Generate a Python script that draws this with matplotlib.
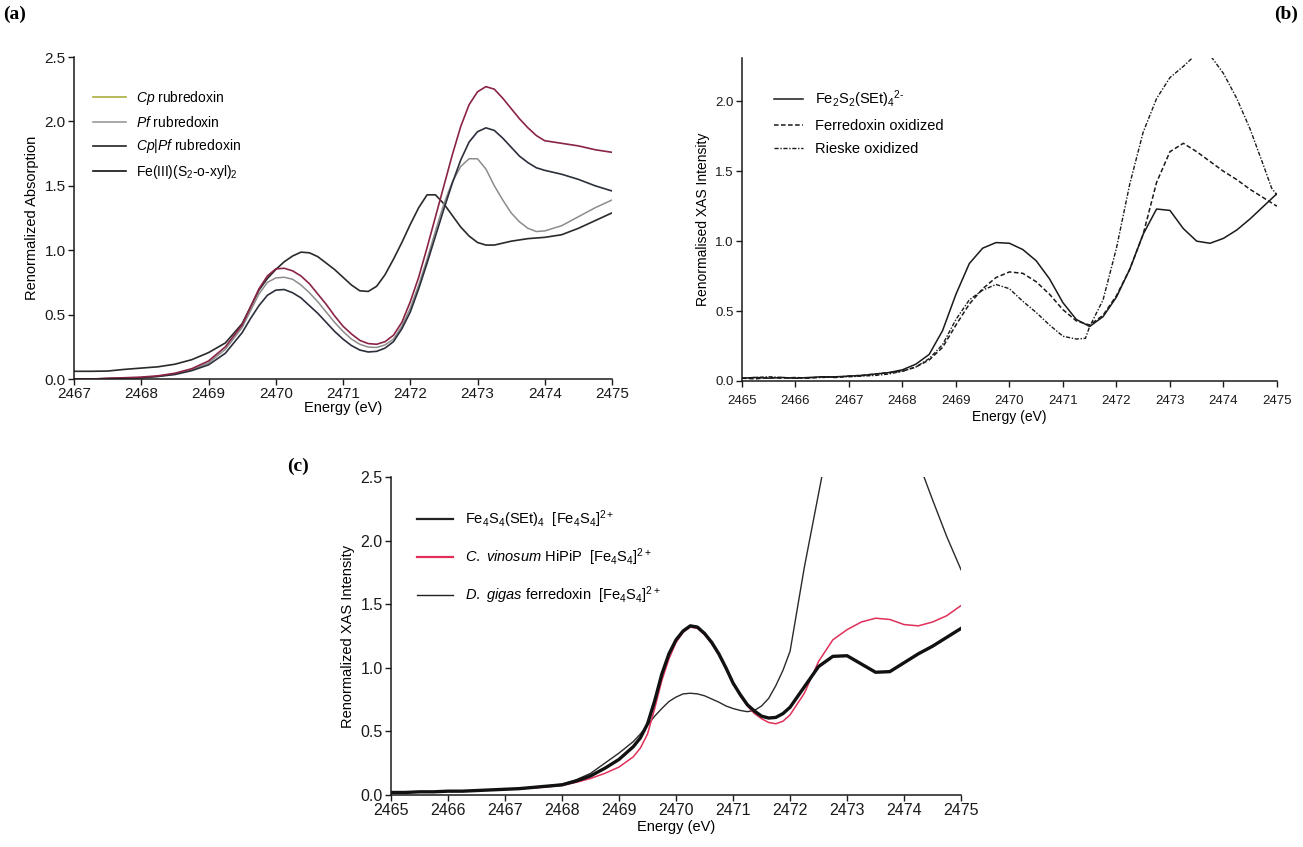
import matplotlib
matplotlib.use('Agg')
import matplotlib.pyplot as plt
from matplotlib.lines import Line2D

plt.rcParams['font.family'] = ['Liberation Sans', 'DejaVu Sans']
plt.rcParams['mathtext.fontset'] = 'custom'
plt.rcParams['mathtext.rm'] = 'Liberation Sans'
plt.rcParams['mathtext.it'] = 'Liberation Sans:italic'
plt.rcParams['mathtext.bf'] = 'Liberation Sans:bold'

TICK_FONT = ['Liberation Sans Narrow', 'Liberation Sans', 'DejaVu Sans']

# ---------------- panel (a): rubredoxins ----------------
energy_a = [2467.0, 2467.25, 2467.5, 2467.75, 2468.0, 2468.25, 2468.5, 2468.75,
            2469.0, 2469.25,
            2469.5, 2469.625, 2469.75, 2469.875, 2470.0, 2470.125, 2470.25, 2470.375,
            2470.5, 2470.625, 2470.75, 2470.875, 2471.0, 2471.125, 2471.25, 2471.375,
            2471.5, 2471.625, 2471.75, 2471.875, 2472.0, 2472.125, 2472.25, 2472.375,
            2472.5, 2472.625, 2472.75, 2472.875, 2473.0, 2473.125, 2473.25, 2473.375,
            2473.5, 2473.625, 2473.75, 2473.875, 2474.0,
            2474.25, 2474.5, 2474.75, 2475.0]
cp_rub = [0.0, 0.0, 0.005, 0.01, 0.015, 0.025, 0.045, 0.08, 0.14, 0.25,
          0.42, 0.56, 0.70, 0.80, 0.855, 0.86, 0.84, 0.80,
          0.74, 0.66, 0.58, 0.49, 0.41, 0.35, 0.30, 0.275,
          0.27, 0.29, 0.34, 0.44, 0.60, 0.79, 1.02, 1.26,
          1.50, 1.74, 1.96, 2.13, 2.23, 2.27, 2.25, 2.18,
          2.10, 2.02, 1.95, 1.89, 1.85,
          1.83, 1.81, 1.78, 1.76]
pf_rub = [0.0, 0.0, 0.004, 0.008, 0.01, 0.02, 0.04, 0.07, 0.125, 0.23,
          0.40, 0.53, 0.66, 0.75, 0.785, 0.79, 0.775, 0.73,
          0.67, 0.60, 0.52, 0.44, 0.37, 0.31, 0.27, 0.248,
          0.245, 0.265, 0.31, 0.41, 0.55, 0.73, 0.93, 1.15,
          1.36, 1.53, 1.65, 1.71, 1.71, 1.63, 1.50, 1.39,
          1.29, 1.22, 1.17, 1.145, 1.15,
          1.19, 1.26, 1.33, 1.39]
cppf_rub = [0.0, 0.0, 0.004, 0.007, 0.01, 0.02, 0.035, 0.065, 0.11, 0.20,
            0.36, 0.47, 0.57, 0.65, 0.69, 0.695, 0.67, 0.63,
            0.57, 0.51, 0.44, 0.37, 0.31, 0.26, 0.225, 0.21,
            0.215, 0.24, 0.29, 0.39, 0.52, 0.70, 0.90, 1.11,
            1.32, 1.52, 1.70, 1.84, 1.92, 1.95, 1.93, 1.87,
            1.80, 1.73, 1.68, 1.64, 1.62,
            1.59, 1.55, 1.50, 1.46]
fe_xyl = [0.06, 0.06, 0.062, 0.075, 0.085, 0.095, 0.115, 0.15, 0.205, 0.28,
          0.43, 0.56, 0.69, 0.78, 0.85, 0.91, 0.955, 0.985,
          0.98, 0.95, 0.90, 0.85, 0.79, 0.73, 0.685, 0.68,
          0.72, 0.81, 0.93, 1.06, 1.20, 1.33, 1.43, 1.43,
          1.36, 1.27, 1.18, 1.11, 1.06, 1.04, 1.04, 1.055,
          1.07, 1.08, 1.09, 1.095, 1.10,
          1.12, 1.17, 1.23, 1.29]
labels_a = [r'$\it{Cp}$ rubredoxin', r'$\it{Pf}$ rubredoxin',
            r'$\it{Cp|Pf}$ rubredoxin', r'Fe(III)(S$_2$-o-xyl)$_2$']

# ---------------- panel (b): Fe2S2 ----------------
energy_b = [2465.0, 2465.25, 2465.5, 2465.75, 2466.0, 2466.25, 2466.5, 2466.75,
            2467.0, 2467.25, 2467.5, 2467.75, 2468.0, 2468.25, 2468.5, 2468.75,
            2469.0, 2469.25, 2469.5, 2469.75, 2470.0, 2470.25, 2470.5, 2470.75,
            2471.0, 2471.25, 2471.5, 2471.75, 2472.0, 2472.25, 2472.5, 2472.75,
            2473.0, 2473.25, 2473.5, 2473.75, 2474.0, 2474.25, 2474.5, 2474.75, 2475.0]
fe2s2_model = [0.02, 0.025, 0.02, 0.025, 0.02, 0.025, 0.03, 0.03,
               0.035, 0.04, 0.05, 0.06, 0.08, 0.12, 0.19, 0.36,
               0.62, 0.84, 0.95, 0.99, 0.985, 0.94, 0.86, 0.73,
               0.56, 0.44, 0.39, 0.46, 0.60, 0.80, 1.05, 1.23,
               1.22, 1.09, 1.00, 0.985, 1.02, 1.08, 1.16, 1.25, 1.34]
ferredoxin_ox = [0.02, 0.015, 0.025, 0.02, 0.025, 0.02, 0.03, 0.025,
                 0.035, 0.04, 0.05, 0.06, 0.07, 0.10, 0.15, 0.24,
                 0.40, 0.55, 0.66, 0.74, 0.78, 0.77, 0.71, 0.62,
                 0.51, 0.43, 0.40, 0.47, 0.61, 0.80, 1.05, 1.42,
                 1.64, 1.70, 1.64, 1.57, 1.50, 1.44, 1.37, 1.31, 1.25]
energy_rieske = [2465.0, 2465.5, 2466.0, 2466.5, 2467.0, 2467.5, 2467.75, 2468.0,
                 2468.25, 2468.5, 2468.75, 2469.0, 2469.25, 2469.5, 2469.75, 2470.0,
                 2470.25, 2470.5, 2470.75, 2471.0, 2471.25, 2471.42, 2471.5, 2471.75,
                 2472.0, 2472.25, 2472.5, 2472.75, 2473.0, 2473.25, 2473.5, 2473.75,
                 2474.0, 2474.25, 2474.5, 2474.75, 2474.9, 2475.0]
rieske_ox = [0.02, 0.03, 0.02, 0.025, 0.03, 0.04, 0.05, 0.07,
             0.10, 0.16, 0.26, 0.44, 0.58, 0.65, 0.69, 0.66,
             0.57, 0.49, 0.40, 0.32, 0.30, 0.305, 0.39, 0.58,
             0.95, 1.41, 1.78, 2.02, 2.17, 2.25, 2.34, 2.33,
             2.20, 2.02, 1.80, 1.54, 1.38, 1.33]
labels_b = [r'Fe$_2$S$_2$(SEt)$_4$$^{2\text{-}}$', 'Ferredoxin oxidized', 'Rieske oxidized']

# ---------------- panel (c): Fe4S4 ----------------
energy_c = [2465.0, 2465.25, 2465.5, 2465.75, 2466.0, 2466.25, 2466.5, 2466.75,
            2467.0, 2467.25, 2467.5, 2467.75, 2468.0, 2468.25, 2468.5, 2468.75,
            2469.0,
            2469.25, 2469.375, 2469.5, 2469.625, 2469.75, 2469.875, 2470.0, 2470.125,
            2470.25, 2470.375, 2470.5, 2470.625, 2470.75, 2470.875, 2471.0, 2471.125,
            2471.25, 2471.375, 2471.5, 2471.625, 2471.75, 2471.875, 2472.0,
            2472.25, 2472.5, 2472.75, 2473.0, 2473.25, 2473.5, 2473.75,
            2474.0, 2474.25, 2474.5, 2474.75, 2475.0]
fe4s4_model = [0.02, 0.02, 0.025, 0.025, 0.03, 0.03, 0.035, 0.04,
               0.045, 0.05, 0.06, 0.07, 0.08, 0.11, 0.15, 0.21,
               0.28,
               0.38, 0.45, 0.56, 0.74, 0.95, 1.11, 1.22, 1.29,
               1.33, 1.32, 1.27, 1.20, 1.11, 1.00, 0.88, 0.79,
               0.71, 0.66, 0.62, 0.605, 0.61, 0.64, 0.69,
               0.85, 1.01, 1.09, 1.095, 1.03, 0.965, 0.97,
               1.04, 1.11, 1.17, 1.24, 1.31]
hipip = [0.02, 0.02, 0.025, 0.025, 0.03, 0.03, 0.035, 0.04,
         0.045, 0.05, 0.055, 0.065, 0.075, 0.10, 0.13, 0.17,
         0.22,
         0.30, 0.37, 0.48, 0.68, 0.90, 1.07, 1.20, 1.28,
         1.32, 1.31, 1.26, 1.19, 1.10, 0.99, 0.88, 0.78,
         0.70, 0.64, 0.60, 0.57, 0.56, 0.58, 0.63,
         0.80, 1.05, 1.22, 1.30, 1.36, 1.39, 1.38,
         1.34, 1.33, 1.36, 1.41, 1.49]
dgigas_fd = [0.02, 0.02, 0.025, 0.025, 0.03, 0.03, 0.035, 0.04,
             0.045, 0.05, 0.06, 0.07, 0.085, 0.12, 0.17, 0.25,
             0.33,
             0.42, 0.48, 0.55, 0.62, 0.68, 0.735, 0.77, 0.795,
             0.80, 0.795, 0.78, 0.755, 0.73, 0.70, 0.68, 0.665,
             0.655, 0.665, 0.70, 0.76, 0.86, 0.98, 1.13,
             1.79, 2.37, 2.95, 3.20, 3.30, 3.25, 3.05,
             2.85, 2.62, 2.32, 2.03, 1.77]
labels_c = [r'Fe$_4$S$_4$(SEt)$_4$  [Fe$_4$S$_4$]$^{2+}$',
            r'$\it{C.\ vinosum}$ HiPiP  [Fe$_4$S$_4$]$^{2+}$',
            r'$\it{D.\ gigas}$ ferredoxin  [Fe$_4$S$_4$]$^{2+}$']


def style_axes(ax, tick_size):
    #only left and bottom spines, ticks pointing out
    for side in ['top', 'right']:
        ax.spines[side].set_visible(False)
    for side in ['left', 'bottom']:
        ax.spines[side].set_linewidth(1.1)
        ax.spines[side].set_color('#1a1a1a')
    ax.tick_params(direction='out', length=4, width=1.0, colors='#1a1a1a',
                   labelsize=tick_size, pad=2)
    for lab in ax.get_xticklabels() + ax.get_yticklabels():
        lab.set_family(TICK_FONT)


fig = plt.figure(figsize=(13.03, 8.47), dpi=100)

# panel (a)
ax_a = fig.add_axes([0.0568, 0.5525, 0.4129, 0.3802])
ax_a.plot(energy_a, fe_xyl, color='#2a2a2a', lw=1.2)
ax_a.plot(energy_a, pf_rub, color='#8c8c8c', lw=1.1)
ax_a.plot(energy_a, cppf_rub, color='#2c2f3c', lw=1.2)
ax_a.plot(energy_a, cp_rub, color='#8a2444', lw=1.2)
ax_a.set_xlim(2467, 2475)
ax_a.set_ylim(0, 2.5)
ax_a.set_xticks(range(2467, 2476))
ax_a.set_yticks([0, 0.5, 1.0, 1.5, 2.0, 2.5])
ax_a.set_yticklabels(['0.0', '0.5', '1.0', '1.5', '2.0', '2.5'])
style_axes(ax_a, 11)
ax_a.set_xlabel('Energy (eV)', fontsize=10.5, labelpad=0)
ax_a.set_ylabel('Renormalized Absorption', fontsize=10.5, labelpad=4)
handles_a = [Line2D([], [], color=c, lw=1.2) for c in ['#a9ae3c', '#9a9a9a', '#222222', '#111111']]
ax_a.legend(handles_a, labels_a, loc='upper left', bbox_to_anchor=(0.035, 0.9),
            frameon=False, fontsize=10, handlelength=2.4, handletextpad=0.7,
            labelspacing=0.55, borderpad=0, borderaxespad=0)

# panel (b)
ax_b = fig.add_axes([0.5694, 0.5502, 0.4106, 0.3813])
ax_b.plot(energy_b, fe2s2_model, color='#1a1a1a', lw=1.1, ls='-')
ax_b.plot(energy_b, ferredoxin_ox, color='#1a1a1a', lw=1.1, ls=(0, (3, 1.6)))
ax_b.plot(energy_rieske, rieske_ox, color='#1a1a1a', lw=1.0, ls=(0, (3, 1.2, 1, 1.2)))
ax_b.set_xlim(2465, 2475)
ax_b.set_ylim(0, 2.31)
ax_b.set_xticks(range(2465, 2476))
ax_b.set_yticks([0, 0.5, 1.0, 1.5, 2.0])
ax_b.set_yticklabels(['0.0', '0.5', '1.0', '1.5', '2.0'])
style_axes(ax_b, 9.5)
ax_b.tick_params(axis='x', pad=6)
ax_b.set_xlabel('Energy (eV)', fontsize=10, labelpad=2)
ax_b.set_ylabel('Renormalised XAS Intensity', fontsize=10, labelpad=4)
ax_b.legend(labels_b, loc='upper left', bbox_to_anchor=(0.06, 0.905),
            frameon=False, fontsize=10.5, handlelength=2.0, handletextpad=0.8,
            labelspacing=0.6, borderpad=0, borderaxespad=0)

# panel (c)
ax_c = fig.add_axes([0.3001, 0.0614, 0.4375, 0.3754])
ax_c.plot(energy_c, dgigas_fd, color='#2a2a2a', lw=1.0)
ax_c.plot(energy_c, hipip, color='#e0305a', lw=1.1)
ax_c.plot(energy_c, fe4s4_model, color='#111111', lw=2.4)
ax_c.set_xlim(2465, 2475)
ax_c.set_ylim(0, 2.5)
ax_c.set_xticks(range(2465, 2476))
ax_c.set_yticks([0, 0.5, 1.0, 1.5, 2.0, 2.5])
ax_c.set_yticklabels(['0.0', '0.5', '1.0', '1.5', '2.0', '2.5'])
style_axes(ax_c, 11.5)
ax_c.set_xlabel('Energy (eV)', fontsize=10.5, labelpad=1)
ax_c.set_ylabel('Renormalized XAS Intensity', fontsize=10.5, labelpad=4)
handles_c = [Line2D([], [], color='#222222', lw=1.6),
             Line2D([], [], color='#e0305a', lw=1.6),
             Line2D([], [], color='#222222', lw=1.0)]
ax_c.legend(handles_c, labels_c, loc='upper left', bbox_to_anchor=(0.045, 0.9),
            frameon=False, fontsize=10.5, handlelength=2.5, handletextpad=0.8,
            labelspacing=1.1, borderpad=0, borderaxespad=0)

# panel letters
for letter, x, y in [('(a)', 15, 14), ('(b)', 1286, 14), ('(c)', 298, 466)]:
    fig.text(x / 1303, 1 - y / 847, letter, fontsize=14, fontweight='bold',
             family=['Liberation Serif', 'DejaVu Serif'], ha='center', va='center')

fig.savefig('out.png', dpi=100, facecolor='white')
